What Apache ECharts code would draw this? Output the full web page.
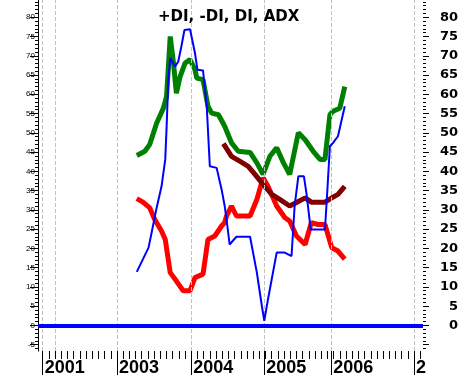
<!DOCTYPE html>
<html>
<head>
<meta charset="utf-8">
<script src="https://cdn.jsdelivr.net/npm/echarts@6/dist/echarts.min.js"></script>
<style>
html, body { margin: 0; padding: 0; background: #fff; }
#chart { width: 461px; height: 377px; }
</style>
</head>
<body>
<div id="chart"></div>
<script>
// x = bar position counted from the 2001 tick
const plusX  = [15.2, 16.5, 17.3, 18.4, 19.5, 20.0, 20.3, 20.6, 21.1, 21.6, 22.2, 23.0, 23.8, 24.6, 24.9, 25.9, 26.7, 27.3, 28.4, 29.4, 30.5, 31.6, 33.5, 34.6, 35.6, 36.7, 37.8, 38.9, 39.9, 41.3, 42.4, 43.7, 44.8, 45.6, 46.4, 46.9, 48.0, 48.8]
const plusDI = [44.1, 45.2, 47.0, 52.5, 56.4, 59.4, 67.0, 75.0, 68.5, 60.3, 64.6, 68.1, 69.0, 66.4, 64.2, 63.8, 56.9, 55.1, 54.7, 51.7, 47.4, 45.2, 44.9, 42.2, 39.2, 43.9, 46.1, 42.2, 39.2, 50.0, 48.2, 45.2, 43.1, 43.1, 54.7, 55.6, 56.4, 62.0]

const minusX  = [15.2, 16.2, 17.3, 18.1, 19.2, 19.8, 20.6, 21.6, 22.7, 23.8, 24.6, 25.9, 26.7, 27.8, 28.9, 29.4, 29.7, 30.5, 31.3, 33.5, 34.6, 35.6, 36.4, 37.8, 39.1, 39.9, 41.0, 42.4, 43.4, 44.5, 45.6, 46.7, 47.7, 48.8]
const minusDI = [32.9, 32.0, 30.5, 27.5, 24.5, 22.3, 13.7, 11.5, 9.0, 9.0, 12.4, 13.3, 22.3, 23.2, 25.8, 26.7, 28.4, 31.0, 28.4, 28.4, 32.7, 38.3, 36.1, 31.0, 28.0, 27.1, 23.2, 21.0, 26.7, 26.2, 26.2, 20.2, 19.3, 17.2]

const diX = [15.2, 16.2, 17.1, 17.6, 18.4, 19.2, 19.8, 20.0, 20.3, 20.6, 21.4, 21.9, 22.4, 22.9, 23.8, 24.1, 24.6, 25.0, 25.9, 26.5, 27.0, 28.1, 28.9, 29.4, 29.7, 30.2, 30.9, 31.3, 33.5, 34.6, 35.4, 35.8, 36.4, 37.8, 39.1, 40.2, 40.7, 41.3, 42.2, 42.6, 43.3, 45.6, 45.9, 46.4, 46.9, 47.7, 48.8]
const di  = [13.9, 17.2, 20.2, 24.1, 30.5, 36.1, 43.1, 50.8, 63.8, 69.4, 67.2, 68.5, 72.4, 76.7, 76.9, 76.5, 70.7, 66.4, 66.2, 56.9, 41.3, 40.9, 35.3, 31.0, 27.5, 21.0, 22.3, 23.0, 23.0, 13.7, 5.1, 1.2, 6.8, 18.9, 18.9, 18.0, 31.0, 38.7, 38.7, 34.4, 24.9, 24.9, 32.7, 46.5, 47.4, 49.1, 56.9]

const adxX = [29.2, 30.5, 31.9, 33.2, 34.3, 35.6, 37.0, 38.3, 39.9, 41.0, 42.4, 43.4, 45.6, 46.7, 47.7, 48.8]
const adx  = [47.2, 43.9, 42.6, 41.3, 39.2, 36.6, 34.0, 32.7, 31.0, 31.9, 33.1, 32.0, 32.0, 33.1, 34.0, 36.1]

const yearPos = [0, 12, 24, 35.8, 46.6, 60]
const yearLabels = ['2001', '2003', '2004', '2005', '2006', '2']
const dashPos = [0, 2, 12, 24, 35.8, 46.6, 60]

const range = (a, b, s) => { let r = []; for (let v = a; v <= b; v += s) r.push(v); return r }
const yMajor = range(-5, 80, 5)
const yMinor = range(-6, 84, 1)
const xMinor = range(0, 61, 1)
const zip = (xs, ys) => xs.map((x, i) => [x, ys[i]])

const X_MIN = -0.76, X_MAX = 61.44
const Y_MIN = -6.65, Y_MAX = 84.48

let chart = echarts.init(document.getElementById('chart'))

const yBase = {
    type: 'value', min: Y_MIN, max: Y_MAX,
    splitLine: { show: false },
    axisLine: { show: false, onZero: false },
    axisLabel: { show: false },
    axisTick: { show: false }
}

let option = {
    animation: false,
    backgroundColor: '#fff',
    title: {
        text: '+DI, -DI, DI, ADX',
        left: 153, top: 5,
        textStyle: { fontFamily: 'DejaVu Sans', fontWeight: 'bold', fontSize: 15, color: '#000' }
    },
    grid: { left: 38, right: 38, top: 0, bottom: 25 },
    xAxis: [
        {
            type: 'value', min: X_MIN, max: X_MAX, position: 'bottom',
            splitLine: { show: false },
            axisLine: { show: false, onZero: false },
            axisLabel: { show: false },
            axisTick: { show: true, customValues: xMinor, length: 8, lineStyle: { color: '#000' } }
        },
        {
            type: 'value', min: X_MIN, max: X_MAX, position: 'bottom',
            splitLine: { show: false },
            axisLine: { show: false, onZero: false },
            axisTick: { show: true, customValues: yearPos, length: 24, lineStyle: { color: '#000' } },
            axisLabel: {
                customValues: yearPos,
                formatter: v => yearLabels[yearPos.indexOf(v)],
                align: 'left', verticalAlign: 'top', margin: 8,
                padding: [0, 0, 0, 2],
                fontFamily: 'Liberation Sans', fontWeight: 'bold', fontSize: 18, color: '#000'
            }
        }
    ],
    yAxis: [
        Object.assign({}, yBase, {
            position: 'left',
            axisLine: { show: true, onZero: false, lineStyle: { color: '#000', width: 1 } },
            axisTick: { show: true, customValues: yMajor, length: 8, lineStyle: { color: '#000' } },
            axisLabel: { show: true, customValues: yMajor, margin: 3, fontFamily: 'Liberation Sans', fontSize: 8, color: '#000' }
        }),
        Object.assign({}, yBase, {
            position: 'left',
            axisTick: { show: true, customValues: yMinor, length: 3, lineStyle: { color: '#000' } }
        }),
        Object.assign({}, yBase, {
            position: 'right',
            axisTick: { show: true, customValues: yMajor, length: 6, lineStyle: { color: '#000' } },
            axisLabel: {
                show: true, customValues: yMajor.filter(v => v >= 0), align: 'right', margin: 35,
                fontFamily: 'DejaVu Sans', fontWeight: 'bold', fontSize: 13, color: '#000'
            }
        }),
        Object.assign({}, yBase, {
            position: 'right',
            axisTick: { show: true, customValues: yMinor, length: 3, lineStyle: { color: '#000' } }
        })
    ],
    series: [
        {
            type: 'line', data: [], z: 1, silent: true,
            markLine: {
                silent: true, symbol: 'none', label: { show: false },
                lineStyle: { color: '#c0c0c0', type: 'dashed', width: 1 },
                data: dashPos.map(v => ({ xAxis: v }))
            }
        },
        {
            name: '+DI', type: 'line', data: zip(plusX, plusDI), showSymbol: false, z: 3,
            lineStyle: { color: '#008000', width: 5 }
        },
        {
            name: '-DI', type: 'line', data: zip(minusX, minusDI), showSymbol: false, z: 3,
            lineStyle: { color: '#ff0000', width: 5 }
        },
        {
            name: 'ADX', type: 'line', data: zip(adxX, adx), showSymbol: false, z: 4,
            lineStyle: { color: '#800000', width: 5 }
        },
        {
            name: 'DI', type: 'line', data: zip(diX, di), showSymbol: false, z: 5,
            lineStyle: { color: '#0000ff', width: 2 },
            markLine: {
                silent: true, symbol: 'none', label: { show: false },
                lineStyle: { color: '#0000ff', type: 'solid', width: 4 },
                data: [{ yAxis: 0 }]
            }
        }
    ]
}

chart.setOption(option)
</script>
</body>
</html>
